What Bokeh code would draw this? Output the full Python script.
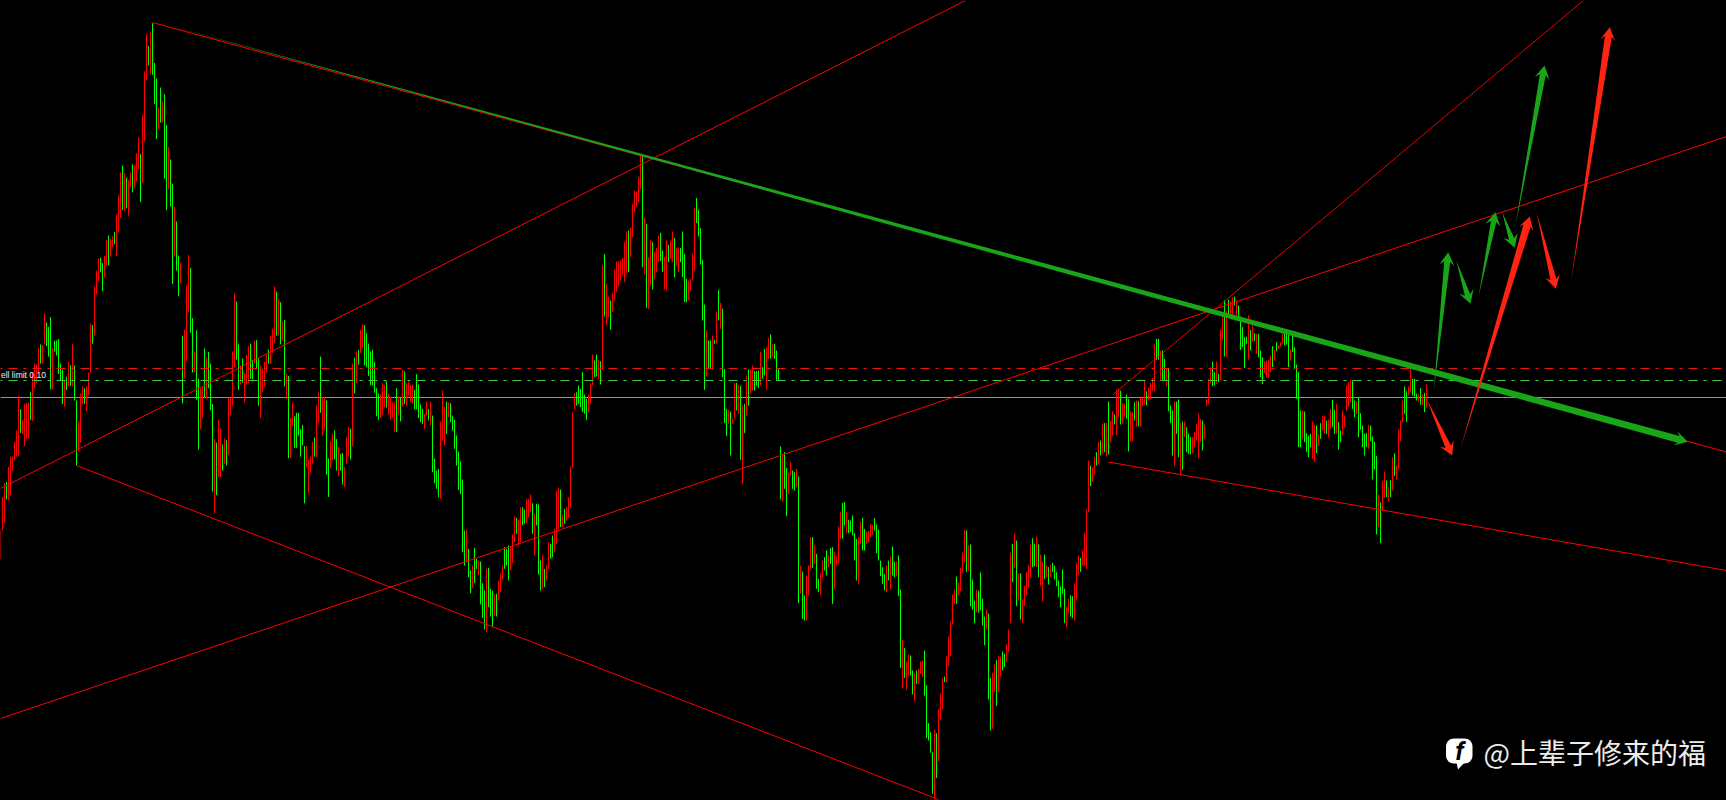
from bokeh.plotting import figure
from bokeh.embed import file_html
from bokeh.resources import INLINE
from bokeh.core.properties import value
import math

# (column read, direction, top, bottom) for each price bar
bars_a = [(1,'r',1510,1590),(7,'r',1415,1510),(13,'r',1375,1490),(19,'g',1372,1422),(25,'r',1330,1425),(31,'r',1300,1410),(37,'r',1300,1340),(43,'r',1258,1310),(49,'r',1225,1300),(55,'r',1127,1297),
(61,'g',1165,1232),(67,'r',1195,1235),(73,'r',1150,1270),(79,'r',1148,1250),(85,'r',1145,1248),(91,'g',1115,1195),(97,'r',1060,1198),(103,'r',1035,1105),(109,'r',1038,1090),(115,'r',990,1062),
(121,'g',980,1035),(127,'r',982,1035),(133,'r',892,980),(139,'g',918,985),(145,'g',930,1015),(151,'g',902,1108),(157,'r',990,1108),(163,'g',970,1000),(169,'g',968,1012),(175,'g',965,1065),
(181,'g',1035,1082),(187,'g',1052,1150),(193,'r',1080,1158),(199,'g',1072,1110),(205,'r',1030,1100),(211,'g',1040,1098),(217,'r',980,1100),(223,'g',1040,1140),(229,'g',1140,1325),(235,'r',1200,1285),
(241,'r',1120,1260),(247,'r',1100,1150),(253,'g',1105,1150),(259,'r',1100,1170),(265,'r',1060,1125),(271,'r',920,1060),(277,'g',925,978),(283,'r',815,955),(289,'r',770,838),(295,'r',735,800),
(301,'g',733,775),(307,'g',748,828),(313,'r',728,790),(319,'r',683,755),(325,'g',670,755),(331,'r',680,730),(337,'r',672,702),(343,'g',660,695),(349,'r',610,728),(355,'r',555,660),
(361,'r',490,620),(367,'g',470,597),(373,'r',492,600),(379,'g',505,592),(385,'r',512,613),(391,'r',490,532),(397,'g',467,547),(403,'r',470,535),(409,'r',435,515),(415,'r',390,480),
(421,'g',438,575),(427,'r',325,520),(433,'r',202,402),(439,'r',95,228),(445,'g',130,185),(451,'r',88,210),(457,'g',65,212),(463,'g',178,295),(469,'g',222,395),(475,'r',305,367),
(481,'g',248,348),(487,'r',288,348),(493,'g',267,508),(499,'g',355,598),(505,'r',418,538),(511,'g',453,587),(517,'g',522,808),(523,'r',587,730),(529,'g',630,770),(535,'g',727,843),
(541,'r',747,805),(547,'g',955,1148),(553,'r',938,1077),(559,'r',812,1028),(565,'r',725,887),(571,'g',762,947),(577,'g',905,1060),(583,'r',1000,1060),(589,'g',940,1138),(595,'g',1078,1280),
(601,'r',1105,1222),(607,'r',1100,1190),(613,'g',992,1130),(619,'r',1018,1135),(625,'g',1002,1105),(631,'g',1035,1168),(637,'g',1150,1400),(643,'r',1250,1462),(649,'g',1260,1410),(655,'r',1195,1358),
(661,'r',1220,1358),(667,'g',1265,1340),(673,'r',1248,1320),(679,'g',1253,1325),(685,'r',1133,1295),(691,'r',1130,1180),(697,'r',1000,1155),(703,'r',835,1045),(709,'g',858,1023),(715,'g',980,1110),
(721,'r',1040,1095),(727,'g',1020,1090),(733,'r',1062,1145),(739,'r',1010,1095),(745,'r',985,1090),(751,'g',978,1078),(757,'g',1025,1080),(763,'r',970,1035),(769,'g',968,1050),(775,'g',1020,1155),
(781,'r',1040,1190),(787,'r',1050,1115),(793,'r',1030,1100),(799,'r',1010,1060),(805,'g',995,1035),(811,'r',955,1035),(817,'r',935,1005),(823,'r',815,975),(829,'g',830,955),(835,'r',850,955),
(841,'g',860,980),(847,'r',915,970),(853,'g',910,1100),(859,'r',1065,1135),(865,'g',1070,1305),(871,'r',1190,1303),(877,'r',1145,1212),(883,'g',1185,1275),(889,'g',1175,1275),(895,'g',1175,1240),
(901,'g',1222,1300),(907,'g',1210,1268),(913,'g',1270,1433),(919,'r',1270,1330),(925,'r',1310,1405),(931,'r',1300,1345),(937,'r',1258,1320),(943,'g',1245,1300),(949,'r',1155,1300),(955,'r',1115,1203),
(961,'g',1015,1175),(967,'r',1130,1240),(973,'r',1130,1222),(979,'g',1140,1352),(985,'g',1305,1415),(991,'r',1257,1332),(997,'r',1235,1310),(1003,'g',1225,1308),(1009,'g',1250,1340),(1015,'r',1272,1355),
(1021,'g',1293,1340),(1027,'g',1290,1380),(1033,'r',1330,1387),(1039,'r',1245,1320),(1045,'r',1215,1300),(1051,'g',1220,1308),(1057,'r',1035,1270),(1063,'g',1018,1120),(1069,'r',1000,1090),(1075,'g',995,1038),
(1081,'r',938,1005),(1087,'r',922,990),(1093,'g',925,1040),(1099,'g',948,1045),(1105,'g',978,1070),(1111,'g',1000,1097),(1117,'g',995,1097),(1123,'g',1030,1118),(1129,'g',1105,1185),(1135,'g',1120,1195),
(1141,'r',1122,1190),(1147,'r',1090,1180),(1153,'r',1095,1160),(1159,'g',1085,1160),(1165,'r',1120,1180),(1171,'r',1130,1195),(1177,'r',1145,1190),(1183,'r',1143,1230),(1189,'g',1105,1230),(1195,'r',1128,1180),
(1201,'g',1130,1200),(1207,'r',1052,1158),(1213,'g',1057,1150),(1219,'r',1090,1155),(1225,'r',1085,1125),(1231,'r',1095,1145),(1237,'r',1095,1150),(1243,'g',1110,1165),(1249,'g',1065,1165),(1255,'g',1095,1190)]

bars_b = [(1,'g',822,875),(7,'g',835,880),(13,'r',850,895),(19,'r',813,855),(25,'g',835,870),(31,'r',813,885),(37,'g',855,1025),(43,'g',985,1058),(49,'g',1020,1075),(55,'g',1015,1100),
(61,'r',873,1105),(67,'r',780,930),(73,'r',828,945),(79,'g',813,910),(85,'r',815,860),(91,'g',818,875),(97,'g',855,900),(103,'g',868,955),(109,'g',915,1005),(115,'g',963,1078),
(121,'g',993,1090),(127,'g',1047,1265),(133,'g',1200,1305),(139,'r',1197,1295),(145,'g',1255,1340),(151,'g',1320,1388),(157,'r',1305,1372),(163,'g',1252,1358),(169,'g',1285,1315),(175,'r',1290,1335),
(181,'g',1293,1422),(187,'g',1358,1462),(193,'g',1380,1497),(199,'r',1315,1505),(205,'g',1312,1430),(211,'g',1375,1458),(217,'g',1380,1490),(223,'r',1390,1457),(229,'g',1390,1458),(235,'r',1350,1410),
(241,'r',1330,1385),(247,'r',1305,1345),(253,'g',1250,1315),(259,'g',1255,1305),(265,'g',1245,1350),(271,'r',1250,1320),(277,'r',1212,1298),(283,'r',1157,1235),(289,'g',1163,1210),(295,'r',1167,1245),
(301,'r',1130,1235),(307,'g',1130,1185),(313,'g',1137,1180),(319,'r',1105,1178),(325,'r',1105,1160),(331,'r',1092,1145),(337,'g',1118,1210),(343,'r',1150,1275),(349,'g',1120,1185),(355,'g',1122,1332),
(361,'g',1290,1380),(367,'r',1272,1375),(373,'g',1315,1370),(379,'r',1305,1350),(385,'r',1235,1315),(391,'g',1240,1285),(397,'g',1215,1280),(403,'r',1195,1265),(409,'r',1080,1240),(415,'r',1073,1195),
(421,'g',1077,1190),(427,'r',1152,1190),(433,'g',1135,1180),(439,'r',1130,1170),(445,'r',1100,1160),(451,'r',1008,1130),(457,'r',845,1012),(463,'r',788,838),(469,'g',785,825),(475,'g',765,820),
(481,'g',775,830),(487,'g',725,845),(493,'g',792,850),(499,'g',805,868),(505,'r',792,845),(511,'r',758,820),(517,'r',672,765),(523,'g',690,740),(529,'g',672,737),(535,'r',688,745),
(541,'g',692,762),(547,'r',403,720),(553,'g',370,558),(559,'r',460,585),(565,'r',498,560),(571,'g',510,597),(577,'r',487,545),(583,'r',418,510),(589,'r',392,485),(595,'r',392,468),
(601,'r',390,450),(607,'r',382,432),(613,'r',335,455),(619,'r',303,428),(625,'g',300,425),(631,'r',292,380),(637,'r',220,320),(643,'r',180,245),(649,'r',183,228),(655,'r',140,215),
(661,'r',75,175),(667,'g',75,410),(673,'r',262,432),(679,'g',280,532),(685,'r',380,535),(691,'r',328,465),(697,'g',335,477),(703,'r',365,445),(709,'r',352,425),(715,'r',315,395),
(721,'g',307,392),(727,'g',360,425),(733,'r',380,477),(739,'r',330,480),(745,'g',343,395),(751,'r',330,385),(757,'r',303,395),(763,'g',322,440),(769,'r',352,405),(775,'r',350,425),
(781,'g',352,395),(787,'g',303,440),(793,'g',370,515),(799,'g',445,515),(805,'r',450,510),(811,'r',445,480),(817,'r',370,450),(823,'r',232,420),(829,'g',202,278),(835,'g',238,318),
(841,'g',293,402),(847,'g',388,570),(853,'g',522,778),(859,'r',600,738),(865,'g',630,715),(871,'g',630,715),(877,'r',615,718),(883,'g',628,640),(889,'r',543,640),(895,'g',478,570),
(901,'r',517,595),(907,'g',535,740),(913,'g',715,878),(919,'g',835,917),(925,'r',838,880),(931,'g',843,975),(937,'r',865,880),(943,'r',757,865),(949,'g',757,840),(955,'r',763,850),
(961,'g',767,988),(967,'r',825,1060),(973,'g',820,908),(979,'r',735,855),(985,'g',717,825),(991,'r',717,790),(997,'r',705,780),(1003,'g',722,780),(1009,'g',722,765),(1015,'g',720,772),
(1021,'r',665,765),(1027,'g',710,745),(1033,'g',655,735),(1039,'r',652,778),(1045,'r',622,685),(1051,'g',612,685),(1057,'r',640,680),(1063,'g',640,685),(1069,'g',660,750),(1075,'g',715,750),
(1081,'g',948,1107),(1087,'r',970,1113),(1093,'g',965,1075),(1099,'g',1012,1157),(1105,'r',1027,1090),(1111,'r',995,1035),(1117,'g',1020,1075),(1123,'g',1025,1080),(1129,'r',1015,1070),(1135,'g',1038,1418),
(1141,'r',1305,1390),(1147,'g',1323,1465),(1153,'g',1395,1470),(1159,'r',1335,1470),(1165,'r',1305,1395),(1171,'r',1220,1315),(1177,'g',1220,1312),(1183,'r',1245,1300),(1189,'g',1270,1375),(1195,'g',1345,1385),
(1201,'r',1330,1395),(1207,'r',1290,1340),(1213,'g',1280,1320),(1219,'g',1260,1335),(1225,'r',1275,1310),(1231,'g',1253,1300),(1237,'g',1250,1420),(1243,'r',1265,1375),(1249,'r',1278,1305),(1255,'r',1188,1300),
(1261,'r',1143,1225),(1267,'g',1117,1225),(1273,'g',1115,1185),(1279,'r',1145,1210),(1285,'g',1168,1208),(1291,'g',1170,1205),(1297,'g',1155,1215),(1303,'g',1208,1290),(1309,'g',1225,1350),(1315,'r',1220,1360)]

bars_c = [(241,'r',363,430),(247,'g',352,450),(253,'g',385,450),(259,'r',392,430),(265,'r',392,425),(271,'r',370,410),(277,'r',373,402),(283,'g',353,390),(289,'g',372,458),(295,'g',387,480),
(301,'g',480,527),(307,'g',500,550),(313,'g',520,570),(319,'r',495,575),(325,'g',480,540),(331,'r',468,568),(337,'g',438,525),(343,'g',483,530),(349,'r',483,528),(355,'g',465,587),
(361,'g',567,803),(367,'r',717,863),(373,'g',742,833),(379,'r',785,868),(385,'r',762,825),(391,'g',765,825),(397,'g',810,882),(403,'r',818,902),(409,'g',810,850),(415,'r',805,850),
(421,'r',783,820),(427,'r',780,830),(433,'g',750,885),(439,'g',855,1013),(445,'g',968,1020),(451,'g',995,1057),(457,'g',1055,1180),(463,'r',988,1195),(469,'g',998,1133),(475,'r',925,1082),
(481,'r',880,957),(487,'r',833,927),(493,'g',828,845),(499,'r',768,845),(505,'r',708,797),(511,'r',663,767),(517,'r',582,672),(523,'r',567,610),(529,'g',528,610),(535,'r',547,585),
(541,'r',503,572),(547,'r',456,517),(553,'r',388,485),(559,'g',390,515),(565,'r',435,512),(571,'g',432,617),(577,'g',537,628),(583,'g',600,668),(589,'r',567,635),(595,'g',570,636),
(601,'g',516,630),(607,'g',595,675),(613,'g',648,735),(619,'r',627,687),(625,'g',639,897),(631,'g',833,990),(637,'r',817,985),(643,'r',790,875),(649,'g',778,917),(655,'r',765,875),
(661,'r',768,828),(667,'g',753,810),(673,'g',760,800),(679,'r',732,785),(685,'r',687,755),(691,'r',456,668),(697,'g',430,545),(703,'r',400,503),(709,'g',420,617),(715,'r',520,600),
(721,'g',518,657),(727,'r',595,668),(733,'r',556,617),(739,'r',514,585),(745,'r',495,560),(751,'r',432,530),(757,'g',413,500),(763,'g',430,497),(769,'r',408,500),(775,'g',432,530),
(781,'r',462,557),(787,'r',483,603),(793,'g',462,536),(799,'r',495,530),(805,'g',500,552),(811,'r',493,530),(817,'g',487,515),(823,'g',495,537),(829,'g',515,557),(835,'g',540,590),
(841,'g',558,620),(847,'g',507,580),(853,'g',565,668),(859,'r',618,680),(865,'r',595,640),(871,'g',585,648),(877,'g',587,653),(883,'r',548,660),(889,'r',487,598),(895,'r',465,522),
(901,'g',472,514),(907,'r',450,495),(913,'r',397,495),(919,'r',328,505),(925,'r',180,335)]

bars_d = [(1,'g',585,647),(7,'r',590,635),(13,'r',558,612),(19,'g',545,585),(25,'r',515,582),(31,'g',510,555),(37,'r',460,550),(43,'g',458,545),(49,'r',457,557),(55,'g',393,552),
(61,'r',450,515),(67,'r',422,495),(73,'g',432,462),(79,'r',358,495),(85,'r',355,440),(91,'g',360,462),(97,'r',398,460),(103,'r',400,438),(109,'g',372,445),(115,'g',385,543),
(121,'r',422,513),(127,'r',425,512),(133,'g',395,450),(139,'r',390,468),(145,'g',392,468),(151,'r',382,467),(157,'r',380,405),(163,'r',330,403),(169,'g',362,405),(175,'r',352,390),
(181,'r',338,385),(187,'r',322,360),(193,'r',220,362),(199,'g',205,268),(205,'g',205,268),(211,'r',240,330),(217,'g',240,328),(223,'g',265,330),(229,'r',292,347),(235,'g',295,422),
(241,'g',405,458),(247,'g',420,555),(253,'r',392,587),(259,'g',393,490),(265,'g',387,560),(271,'r',457,612),(277,'g',453,598),(283,'r',453,500),(289,'g',470,545),(295,'g',490,550),
(301,'g',500,552),(307,'r',500,548),(313,'r',485,530),(319,'r',460,510),(325,'r',430,563),(331,'r',445,515),(337,'g',450,540),(343,'r',462,505),(349,'r',385,407),(355,'r',325,400),
(361,'r',290,338),(367,'g',273,347),(373,'g',305,345),(379,'r',273,340),(385,'g',310,335),(391,'r',178,330),(397,'r',125,207),(403,'g',90,258),(409,'r',120,260),(415,'g',88,135),
(421,'r',92,135),(427,'r',80,135),(433,'g',78,105),(439,'r',90,135),(445,'g',105,140),(451,'g',138,238),(457,'g',170,230),(463,'g',200,292),(469,'g',198,220),(475,'r',135,267),
(481,'g',178,240),(487,'r',165,215),(493,'g',188,212),(499,'r',190,250),(505,'g',190,260),(511,'g',240,320),(517,'g',260,340),(523,'r',272,308),(529,'r',272,322),(535,'r',268,322),
(541,'r',255,305),(547,'g',227,290),(553,'r',238,270),(559,'g',215,242),(565,'r',225,235),(571,'r',215,228),(577,'r',190,220),(583,'g',180,225),(589,'g',178,222),(595,'g',190,290),
(601,'r',235,270),(607,'g',195,245),(613,'g',230,295),(619,'g',282,385),(625,'g',305,530),(631,'g',420,530),(637,'r',420,505),(643,'g',423,515),(649,'g',488,545),(655,'g',495,560),
(661,'g',490,530),(667,'r',453,565),(673,'r',462,575),(679,'g',465,548),(685,'r',490,527),(691,'g',458,505),(697,'r',437,480),(703,'r',435,490),(709,'g',450,490),(715,'r',447,500),
(721,'r',415,475),(727,'g',388,470),(733,'g',418,490),(739,'r',400,490),(745,'g',455,537),(751,'g',480,515),(757,'r',420,495),(763,'r',435,470),(769,'r',345,420),(775,'r',335,410),
(781,'r',328,395),(787,'g',330,415),(793,'g',390,440),(799,'r',392,430),(805,'g',382,500),(811,'g',428,478),(817,'g',465,530),(823,'g',490,555),(829,'g',487,530),(835,'r',463,535),
(841,'g',465,512),(847,'g',498,627),(853,'g',513,597),(859,'g',557,792),(865,'r',672,770),(871,'g',695,818),(877,'r',633,720),(883,'r',603,682),(889,'g',630,680),(895,'r',650,693),
(901,'g',628,680),(907,'r',560,660),(913,'g',548,617),(919,'r',585,628),(925,'r',478,595),(931,'r',450,512),(937,'r',390,455),(943,'g',348,430),(949,'g',362,455),(955,'r',348,375),
(961,'r',295,365),(967,'g',325,375),(973,'g',325,378),(979,'g',370,390),(985,'r',372,395),(991,'g',353,403),(997,'r',372,405),(1003,'g',367,425),(1009,'r',342,412)]

# chart levels and drawn lines
level_sell = 368
level_stop = 380
level_bid = 397
trend_lines = [
    ((152, 22), (1726, 451.5), 1.0),
    ((0, 488), (965, 0), 1.0),
    ((76, 465), (938, 799), 1.0),
    ((0, 718), (1726, 136), 1.0),
    ((1108, 461.5), (1726, 570), 1.0),
    ((1112.7, 394), (1583, 0), 0.9),
]
arrows_green = [
    ((152.3, 20.5), (1687.3, 441.3), 7),
    ((1433.3, 390), (1447.7, 251.7), 6),
    ((1455.7, 260), (1470, 303.3), 5.5),
    ((1478.3, 295), (1495, 211.7), 5.5),
    ((1501.7, 211.7), (1514.3, 247.3), 5.5),
    ((1515, 225), (1544, 65), 6),
]
arrows_red = [
    ((1426, 398.3), (1451.7, 455), 6),
    ((1460, 448.3), (1529.3, 216), 7.5),
    ((1536, 211.7), (1555.3, 288.3), 6),
    ((1570.7, 280), (1609.3, 26.7), 7),
]
order_label = "ell limit 0.10"
brand_text = "@上辈子修来的福"

RED, GREEN = "#ff0000", "#00ff00"
ARROW_G, ARROW_R = "#18a518", "#ff2312"

p = figure(width=1726, height=800, x_range=(0, 1726), y_range=(800, 0),
           output_backend="svg", toolbar_location=None, min_border=0,
           background_fill_color="#000000", border_fill_color="#000000",
           styles={"background-color": "#000000"})
p.axis.visible = False
p.grid.visible = False
p.outline_line_color = None

def bar_rows(rows, first, offset, scale):
    out = []
    for col, d, top, bot in rows:
        k = first + (col - 1) // 6
        out.append((2 * k, offset + top / scale, offset + bot / scale, RED if d == "r" else GREEN))
    return out

rows = (bar_rows(bars_a, 0, 0, 2.85) + bar_rows(bars_b, 210, 130, 3)
        + bar_rows(bars_c, 390, 400, 3) + bar_rows(bars_d, 545, 270, 3))

p.line([0, 1726], [level_bid, level_bid], line_color="#8a93a5", line_width=1)
p.segment(x0=[r[0] for r in rows], x1=[r[0] for r in rows], y0=[r[1] for r in rows], y1=[r[2] for r in rows],
          line_color=[r[3] for r in rows], line_width=1)
p.line([-16, 1721], [level_sell, level_sell], line_color="#f01010", line_width=1, line_dash="9 6 3 6")
p.line([-16, 1721], [level_stop, level_stop], line_color="#3ccc3c", line_width=1, line_dash="9 6 3 6")
p.text([0.5], [374], text=[order_label], text_color="#eeeeee", text_font=value("Liberation Sans"),
       text_font_size="8.5px", text_align="left", text_baseline="middle")

for a, b, alpha in trend_lines:
    p.line([a[0], b[0]], [a[1], b[1]], line_color=RED, line_width=1, line_alpha=alpha)

def arrow(tail, tip, width):
    dx, dy = tip[0] - tail[0], tip[1] - tail[1]
    n = math.hypot(dx, dy)
    ux, uy = dx / n, dy / n
    nx, ny = -uy, ux
    hl, hw, notch = 13.0, 7.5, 9.5
    nk = (tip[0] - ux * notch, tip[1] - uy * notch)
    bk = (tip[0] - ux * hl, tip[1] - uy * hl)
    return ([tail[0], nk[0] + nx * width / 2, bk[0] + nx * hw, tip[0], bk[0] - nx * hw, nk[0] - nx * width / 2],
            [tail[1], nk[1] + ny * width / 2, bk[1] + ny * hw, tip[1], bk[1] - ny * hw, nk[1] - ny * width / 2])

for rows_, col in ((arrows_green, ARROW_G), (arrows_red, ARROW_R)):
    xs, ys = zip(*[arrow(*a) for a in rows_])
    p.patches(list(xs), list(ys), fill_color=col, line_color=None)

def badge():
    l, r, t, b, c = 1445.5, 1472, 738, 763, 8
    xs, ys = [], []
    for cx, cy, a0 in ((r - c, t + c, -90), (r - c, b - c, 0), (l + c, b - c, 90), (l + c, t + c, 180)):
        for i in range(9):
            a = math.radians(a0 + i * 90 / 8)
            xs.append(cx + c * math.cos(a)); ys.append(cy + c * math.sin(a))
    return xs, ys
bx, by = badge()
p.patch(bx, by, fill_color="#ffffff", line_color=None)
p.patch([1456, 1464, 1457.5], [762, 762, 769], fill_color="#ffffff", line_color=None)
p.text([1459], [751], text=["f"], text_color="#000000", text_font=value("Roboto"), text_font_style="bold italic",
       text_font_size="25px", text_align="center", text_baseline="middle")
p.text([1483], [751], text=[brand_text], text_color="#ececec", text_font=value("Noto Sans CJK SC"),
       text_font_size="28px", text_align="left", text_baseline="middle")

open("out.html", "w").write(file_html(p, INLINE))
